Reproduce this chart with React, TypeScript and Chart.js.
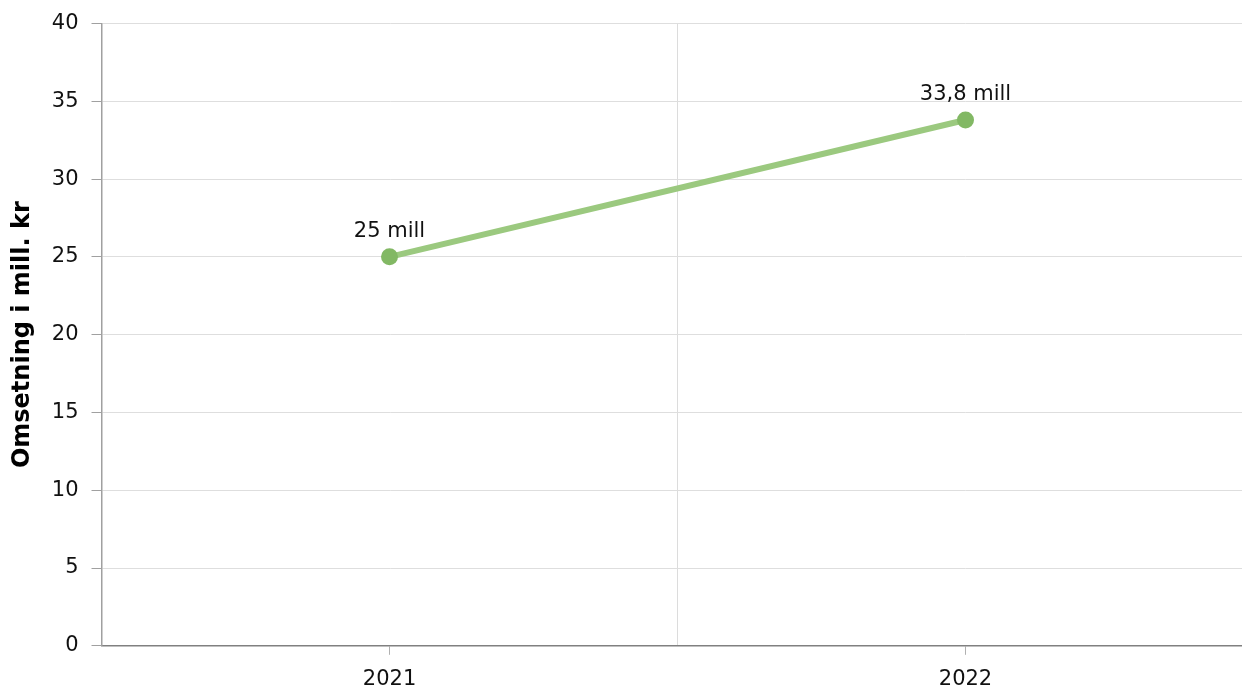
import React, { useEffect, useRef } from "react";
import { Chart, registerables } from "chart.js";

Chart.register(...registerables);

const categories = ["2021", "2022"];
const revenue = [25, 33.8];
const yTicks = [0, 5, 10, 15, 20, 25, 30, 35, 40];
const yTitle = "Omsetning i mill. kr";
const labelSuffix = " mill";

const FONT = "'DejaVu Sans', Verdana, sans-serif";

const valueLabels = {
  id: "valueLabels",
  afterDatasetsDraw(chart: any) {
    const ctx = chart.ctx;
    const meta = chart.getDatasetMeta(0);
    ctx.save();
    ctx.font = `21px ${FONT}`;
    ctx.fillStyle = "#111";
    ctx.textAlign = "center";
    ctx.textBaseline = "bottom";
    meta.data.forEach((pt: any, i: number) => {
      const v = chart.data.datasets[0].data[i] as number;
      const txt = String(v).replace(".", ",") + labelSuffix;
      ctx.fillText(txt, pt.x, pt.y - 15);
    });
    ctx.restore();
  },
};

export default function App() {
  const ref = useRef<HTMLCanvasElement>(null);
  useEffect(() => {
    if (!ref.current) return;
    const chart = new Chart(ref.current, {
      type: "line",
      data: {
        labels: categories,
        datasets: [
          {
            data: revenue,
            borderColor: "#9bc97f",
            backgroundColor: "#82b864",
            pointBackgroundColor: "#82b864",
            pointBorderColor: "#82b864",
            pointRadius: 8.5,
            pointBorderWidth: 0,
            borderWidth: 6,
            tension: 0,
            xAxisID: "x",
          },
        ],
      },
      options: {
        animation: false,
        responsive: false,
        maintainAspectRatio: false,
        layout: { padding: { top: 4, left: 8, bottom: -13, right: 0 } },
        plugins: { legend: { display: false }, tooltip: { enabled: false } },
        scales: {
          x: {
            type: "category",
            offset: true,
            grid: {
              offset: false,
              drawOnChartArea: false,
              drawTicks: true,
              tickLength: 9,
              tickColor: "#b0b0b0",
            },
            border: { display: true, color: "#808080", width: 1.5 },
            ticks: {
              padding: 12,
              color: "#111",
              font: { family: FONT, size: 21 },
            },
          },
          x2: {
            type: "category",
            labels: categories,
            position: "bottom",
            offset: true,
            grid: {
              offset: true,
              drawTicks: false,
              color: "#dcdcdc",
              lineWidth: 1,
            },
            border: { display: false },
            ticks: { display: false },
            afterFit: (s: any) => {
              s.height = 0;
            },
          },
          y: {
            min: 0,
            max: 40,
            afterBuildTicks: (s: any) => {
              s.ticks = yTicks.map((v) => ({ value: v }));
            },
            grid: {
              color: "#dedede",
              tickColor: "#a0a0a0",
              tickLength: 10,
              lineWidth: 1,
            },
            border: { display: true, color: "#a0a0a0", width: 1.5 },
            ticks: {
              padding: 13,
              color: "#111",
              font: { family: FONT, size: 21, lineHeight: 1 },
            },
            title: {
              display: true,
              text: yTitle,
              color: "#000",
              font: { family: FONT, size: 24, weight: "bold" },
              padding: { top: 0, bottom: 2 },
            },
          },
        },
      },
      plugins: [valueLabels],
    });
    return () => chart.destroy();
  }, []);
  return (
    <div
      style={{
        position: "absolute",
        left: 0,
        top: 0,
        width: 1242,
        height: 691,
        overflow: "hidden",
        background: "#fff",
      }}
    >
      <canvas ref={ref} width={1262} height={691} style={{ display: "block", width: 1262, height: 691 }} />
    </div>
  );
}
